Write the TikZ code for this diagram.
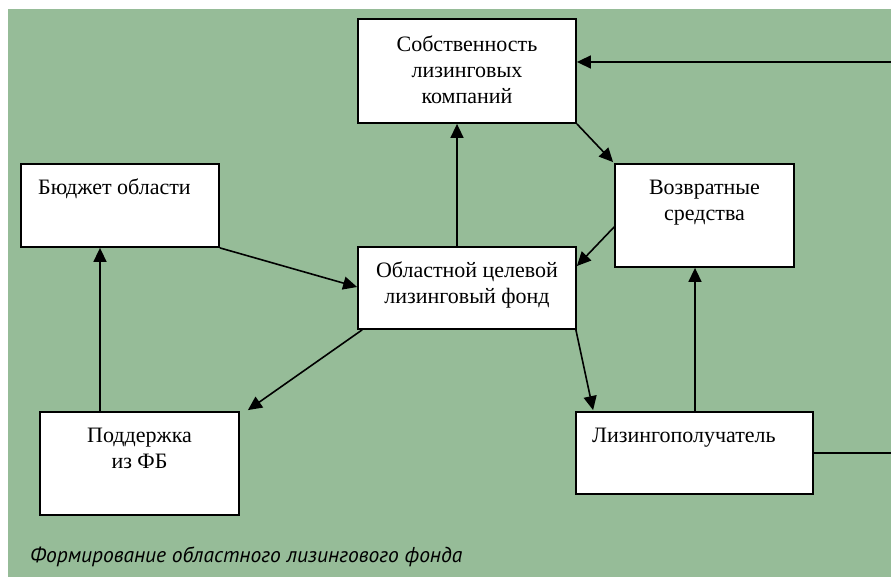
\documentclass[tikz,border=0pt]{standalone}
\usepackage{fontspec}
\setmainfont{Liberation Serif}
\newfontfamily\capfont{PT Sans}
\usetikzlibrary{arrows.meta,calc}
\definecolor{bggreen}{RGB}{150,188,152}
\tikzset{
  box/.style={draw=black, line width=1.8pt, fill=white, inner sep=0pt, anchor=center},
  txt/.style={inner sep=0pt, align=center, font=\fontsize{22}{26}\selectfont},
  conn/.style={draw=black, line width=1.6pt, -{Triangle[length=14pt,width=13pt]}},
  plain/.style={draw=black, line width=1.6pt},
}
\begin{document}
\begin{tikzpicture}[x=1pt,y=-1pt]
\useasboundingbox (0,0) rectangle (891,577);
\fill[bggreen] (8,9) rectangle (891,577);
% boxes
\node[box, minimum width=218pt, minimum height=104pt] (own) at (467,71) {};
\node[box, minimum width=179pt, minimum height=103pt] (ret) at (704.5,215.5) {};
\node[box, minimum width=218pt, minimum height=82pt] (fund) at (467,288) {};
\node[box, minimum width=198pt, minimum height=83pt] (budget) at (120,205.5) {};
\node[box, minimum width=199pt, minimum height=103pt] (supp) at (139.5,463.5) {};
\node[box, minimum width=237pt, minimum height=82pt] (lessee) at (694.5,453) {};
% texts
\node[txt, anchor=north] (ownT) at (467,36) {Собственность\\лизинговых\\компаний};
\node[txt, anchor=north] (retT) at (704.5,180) {Возвратные\\средства};
\node[txt, anchor=north] (fundT) at (467,262) {Областной целевой\\лизинговый фонд};
\node[txt, anchor=north west] (budgetT) at (38,179) {Бюджет области};
\node[txt, anchor=north] (suppT) at (139.5,428) {Поддержка\\из ФБ};
\node[txt, anchor=north west] (lesseeT) at (592,428) {Лизингополучатель};
\node[inner sep=0pt, anchor=base west, font=\capfont\itshape\fontsize{21.5}{24}\selectfont] (cap) at (30,562) {Формирование областного лизингового фонда};
% edge coordinates
\coordinate (R1) at (891,62);
\coordinate (R2) at (891,453);
% connectors
\draw[conn] ([xshift=-10pt]fund.north) -- ([xshift=-10pt]own.south);
\draw[conn] (budget.south east) -- ([yshift=1pt]fund.west);
\draw[conn] ([xshift=5pt]fund.south west) -- ([xshift=8pt,yshift=1pt]supp.north east);
\draw[conn] ([xshift=-39.5pt]supp.north) -- ([xshift=-20pt]budget.south);
\draw[conn] (own.south east) -- ([xshift=-1pt,yshift=1pt]ret.north west);
\draw[conn] ([yshift=-11.5pt]ret.west) -- ([yshift=22pt]fund.east);
\draw[conn] ([xshift=-1pt]fund.south east) -- ([xshift=18pt,yshift=1pt]lessee.north west);
\draw[conn] ([xshift=0.5pt]lessee.north) -- ([xshift=-9.5pt]ret.south);
\draw[plain] (lessee.east) -- (R2);
\draw[conn] (R1) -- ([yshift=9pt]own.east);
\end{tikzpicture}
\end{document}
